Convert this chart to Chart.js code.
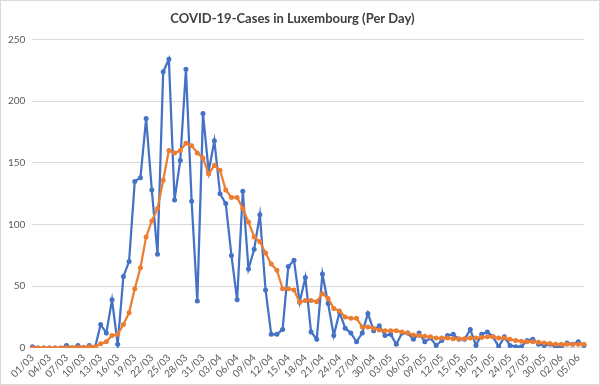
<!DOCTYPE html>
<html>
<head>
<meta charset="utf-8">
<script src="https://cdn.jsdelivr.net/npm/chart.js@4/dist/chart.umd.min.js"></script>
<style>
  html, body { margin: 0; padding: 0; background: #fff; }
  #wrap { width: 600px; height: 385px; box-sizing: border-box; border: 1px solid #d9d9d9; }
</style>
</head>
<body>
<div id="wrap"><canvas id="myChart"></canvas></div>
<script>
const days = [
  '01/03','02/03','03/03','04/03','05/03','06/03','07/03','08/03','09/03','10/03',
  '11/03','12/03','13/03','14/03','15/03','16/03','17/03','18/03','19/03','20/03',
  '21/03','22/03','23/03','24/03','25/03','26/03','27/03','28/03','29/03','30/03','31/03',
  '01/04','02/04','03/04','04/04','05/04','06/04','07/04','08/04','09/04','10/04',
  '11/04','12/04','13/04','14/04','15/04','16/04','17/04','18/04','19/04','20/04',
  '21/04','22/04','23/04','24/04','25/04','26/04','27/04','28/04','29/04','30/04',
  '01/05','02/05','03/05','04/05','05/05','06/05','07/05','08/05','09/05','10/05',
  '11/05','12/05','13/05','14/05','15/05','16/05','17/05','18/05','19/05','20/05',
  '21/05','22/05','23/05','24/05','25/05','26/05','27/05','28/05','29/05','30/05','31/05',
  '01/06','02/06','03/06','04/06','05/06','06/06'
];

// new cases per day
const dailyCases = [
  1, 0, 0, 0, 0, 0, 2, 0, 2, 0,
  2, 0, 19, 12, 39, 3, 58, 70, 135, 138,
  186, 128, 76, 224, 234, 120, 152, 226, 119, 38, 190,
  143, 168, 125, 117, 75, 39, 127, 64, 80, 108,
  47, 11, 11, 15, 66, 71, 37, 57, 13, 7,
  60, 36, 10, 29, 16, 12, 5, 12, 28, 14,
  18, 10, 11, 3, 12, 12, 7, 12, 5, 8,
  2, 6, 10, 11, 7, 7, 15, 2, 11, 13,
  9, 1, 9, 2, 1, 1, 6, 7, 3, 2, 3,
  1, 1, 4, 3, 5, 2
];

// rolling average line
const avgCases = [
  0, 0, 0, 0, 0, 0, 0.4, 0.3, 0.6, 0.6,
  0.9, 0.9, 3.3, 5, 10, 11, 19, 28.5, 48, 65,
  90, 103, 113, 136, 160, 158, 160, 166, 164, 158, 154,
  141, 148, 144, 128, 122, 122, 113, 102, 90, 86,
  77, 68, 63, 48, 48, 47, 37, 38.5, 38.5, 37.5,
  44, 40, 32, 30, 25, 24, 24, 17, 17, 16,
  14.5, 14, 14, 14, 13, 12, 10.5, 10, 9.5, 9,
  8, 8, 8, 7.5, 7.5, 7.5, 8, 8, 8.5, 9,
  9, 8, 8, 7, 6, 5.5, 5, 5, 4.5, 4, 3.5,
  3, 3, 3, 3, 3, 3
];

const yTicks = [0, 50, 100, 150, 200, 250];

const ctx = document.getElementById('myChart').getContext('2d');
const chart = new Chart(ctx, {
  type: 'line',
  data: {
    labels: days,
    datasets: [
      {
        label: 'Cases',
        data: dailyCases,
        borderColor: '#4472C4',
        backgroundColor: '#4472C4',
        borderWidth: 2.25,
        pointRadius: 2.5,
        pointBorderWidth: 0,
        tension: 0,
        order: 2
      },
      {
        label: 'Average',
        data: avgCases,
        borderColor: '#ED7D31',
        backgroundColor: '#ED7D31',
        borderWidth: 2.25,
        pointRadius: 2.5,
        pointBorderWidth: 0,
        tension: 0,
        order: 1
      }
    ]
  },
  options: {
    responsive: true,
    maintainAspectRatio: false,
    animation: false,
    layout: { padding: { left: 0, right: 15, top: 4, bottom: 0 } },
    plugins: {
      legend: { display: false },
      tooltip: { enabled: false },
      title: {
        display: true,
        text: 'COVID-19-Cases in Luxembourg (Per Day)',
        color: '#404040',
        font: { family: 'Lato', size: 13, weight: 'bold' },
        padding: { top: 6, bottom: 13 }
      }
    },
    scales: {
      x: {
        offset: false,
        grid: { display: false, drawTicks: false },
        border: { display: true, color: '#d9d9d9' },
        ticks: {
          autoSkip: false,
          minRotation: 45,
          maxRotation: 45,
          padding: 4,
          color: '#595959',
          font: { family: 'Lato', size: 10 },
          callback: function (value, index) {
            return index % 3 === 0 ? days[index] : '';
          }
        }
      },
      y: {
        min: yTicks[0],
        max: yTicks[yTicks.length - 1],
        afterBuildTicks: function (axis) {
          axis.ticks = yTicks.map(function (v) { return { value: v }; });
        },
        grid: { color: '#d9d9d9', drawTicks: false },
        border: { display: false },
        ticks: {
          padding: 7,
          color: '#595959',
          font: { family: 'Lato', size: 10 }
        }
      }
    }
  }
});
</script>
</body>
</html>
